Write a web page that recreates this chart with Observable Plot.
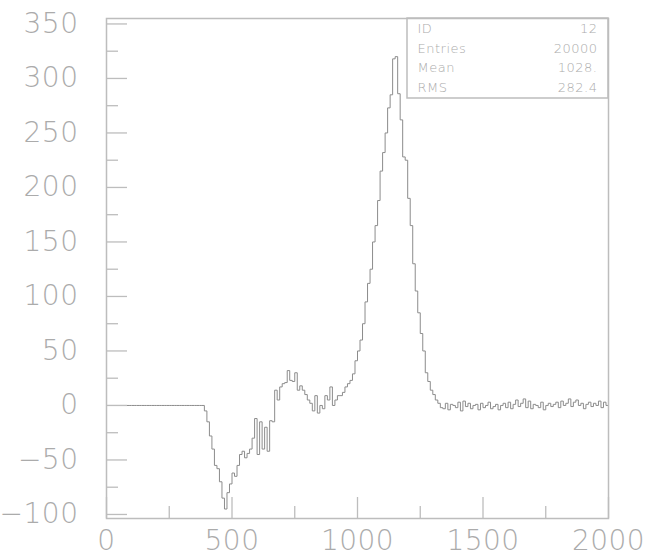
<!DOCTYPE html>
<html>
<head>
<meta charset="utf-8">
<script src="https://cdn.jsdelivr.net/npm/d3@7"></script>
<script src="https://cdn.jsdelivr.net/npm/@observablehq/plot@0.6"></script>
<style>
  html, body { margin: 0; padding: 0; background: #fff; }
  svg { display: block; }
</style>
</head>
<body>
<div id="chart"></div>
<script>
// Histogram 12: 200 bins of width 10 from 0 to 2000
const binLow = 0;
const binWidth = 10;
const counts = [
  // 0 - 380
  0,0,0,0,0,0,0,0,0,0,
  0,0,0,0,0,0,0,0,0,0,
  0,0,0,0,0,0,0,0,0,0,
  0,0,0,0,0,0,0,0,0,
  // 390 - 1330
  -5, -15, -28, -40, -55, -58, -70, -85, -95, -80,
  -72, -62, -65, -55, -45, -42, -48, -44, -40, -30,
  -12, -45, -15, -40, -20, -42, -14, -15, 14, 5,
  17, 20, 21, 32, 23, 22, 30, 14, 18, 14,
  10, 5, 2, -5, 9, -7, 0, -3, 9, 5,
  17, 0, 5, 9, 9, 12, 17, 20, 23, 29,
  41, 50, 60, 75, 95, 112, 125, 150, 165, 188,
  215, 232, 250, 273, 285, 318, 320, 286, 262, 228,
  225, 190, 165, 130, 105, 85, 66, 50, 30, 22,
  14, 10, 5, 2, -2,
  // 1340 - 1990
  -3, 2, -4, 1, 0, -2, 3, -5, 4, -1,
  2, -3, 0, 1, -4, 2, -2, 0, 3, -3,
  -1, 1, -4, 0, 2, -2, 3, -3, 1, 5,
  -1, 2, 6, -2, 4, -3, 1, 0, -2, 3,
  -4, 0, 2, -1, 1, 3, -2, 4, 0, 2,
  6, -1, 3, 5, 0, 2, -3, 1, 3, -1,
  2, 0, 4, -2, 3, 0
];

const xMajor = [0, 500, 1000, 1500, 2000];
const xMinor = [250, 750, 1250, 1750];
const yMajor = [-100, -50, 0, 50, 100, 150, 200, 250, 300, 350];
const yMinor = [-75, -25, 25, 75, 125, 175, 225, 275, 325];

const statLabels = ["ID", "Entries", "Mean", "RMS"];
const statValues = ["12", "20000", "1028.", "282.4"];

const points = counts.map((c, i) => ({x: binLow + i * binWidth, y: c}));
points.push({x: binLow + counts.length * binWidth, y: counts[counts.length - 1]});

const axisColor = "#bdbdbd";
const textColor = "#ababab";
const font = "DejaVu Sans";

const plot = Plot.plot({
  width: 656,
  height: 559,
  marginLeft: 106,
  marginRight: 48,
  marginTop: 18,
  marginBottom: 41,
  style: {fontFamily: font, background: "#fff"},
  x: {domain: [0, 2000], label: null},
  y: {domain: [-103.7, 355], label: null},
  marks: [
    Plot.line(points, {x: "x", y: "y", curve: "step-after", stroke: "#8c8c8c", strokeWidth: 1}),
    // inward ticks
    Plot.axisY({ticks: yMajor, tickSize: -21, text: null, label: null, stroke: axisColor, strokeWidth: 1.3}),
    Plot.axisY({ticks: yMinor, tickSize: -12, text: null, label: null, stroke: axisColor, strokeWidth: 1.3}),
    Plot.axisX({ticks: xMajor, tickSize: -21, text: null, label: null, stroke: axisColor, strokeWidth: 1.3}),
    Plot.axisX({ticks: xMinor, tickSize: -12, text: null, label: null, stroke: axisColor, strokeWidth: 1.3}),
    // labels
    Plot.axisY({ticks: yMajor, tickSize: 0, tickPadding: 28, label: null, fontSize: 28, fontWeight: 200, fill: textColor, tickFormat: d => d < 0 ? "\u2212" + Math.abs(d) : String(d)}),
    Plot.axisX({ticks: xMajor, tickSize: 0, tickPadding: 12, label: null, fontSize: 28, fontWeight: 200, fill: textColor, tickFormat: d => String(d)}),
    Plot.frame({stroke: axisColor, strokeWidth: 1.5}),
    // stats box text
    Plot.text([statLabels.join("\n")], {frameAnchor: "top-right", textAnchor: "start", lineAnchor: "top", dx: -191, dy: 1, lineHeight: 19.5 / 13, fontSize: 13, fill: textColor, fontWeight: 200}),
    Plot.text([statValues.join("\n")], {frameAnchor: "top-right", textAnchor: "end", lineAnchor: "top", dx: -11, dy: 1, lineHeight: 19.5 / 13, fontSize: 13, fill: textColor, fontWeight: 200})
  ]
});

// stats box border anchored to the frame's top-right corner
const frameRight = 656 - 48;
const frameTop = 18;
d3.select(plot).append("rect")
  .attr("x", frameRight - 201)
  .attr("y", frameTop)
  .attr("width", 201)
  .attr("height", 80)
  .attr("fill", "none")
  .attr("stroke", axisColor)
  .attr("stroke-width", 1.5);

d3.select(plot).selectAll("text").style("letter-spacing", "0.5px");

document.getElementById("chart").appendChild(plot);
</script>
</body>
</html>
